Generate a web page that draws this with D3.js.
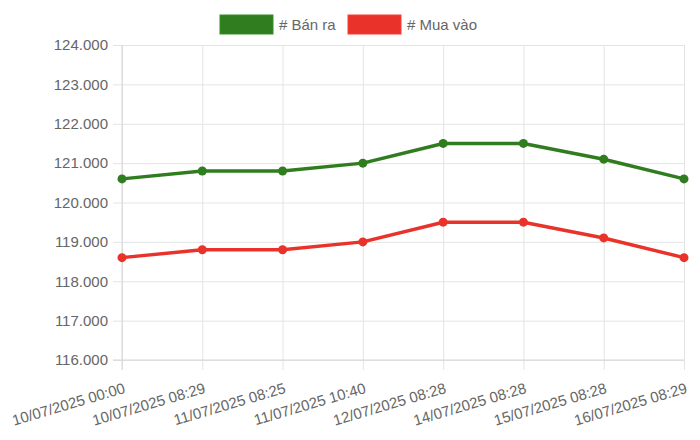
<!DOCTYPE html>
<html>
<head>
<meta charset="utf-8">
<script src="https://cdn.jsdelivr.net/npm/d3@7"></script>
<style>
  body { margin: 0; background: #fff; }
  svg { display: block; font-family: "Liberation Sans", Arial, Helvetica, sans-serif; }
</style>
</head>
<body>
<svg id="chart" width="700" height="440"></svg>
<script>
// labels on the x axis
const labels = [
  "10/07/2025 00:00", "10/07/2025 08:29", "11/07/2025 08:25", "11/07/2025 10:40",
  "12/07/2025 08:28", "14/07/2025 08:28", "15/07/2025 08:28", "16/07/2025 08:29"
];
const banRa = [120600, 120800, 120800, 121000, 121500, 121500, 121100, 120600];
const muaVao = [118600, 118800, 118800, 119000, 119500, 119500, 119100, 118600];
const yTicks = [116000, 117000, 118000, 119000, 120000, 121000, 122000, 123000, 124000];

const series = [
  { name: "# Bán ra", values: banRa, color: "#2f7d1f" },
  { name: "# Mua vào", values: muaVao, color: "#e9332a" }
];

const width = 700, height = 440;
const margin = { top: 45, right: 16, bottom: 80, left: 122 };
const svg = d3.select("#chart");

const vi = d3.formatLocale({ decimal: ",", thousands: ".", grouping: [3], currency: ["", ""] });
const fmt = vi.format(",.0f");

const x = d3.scalePoint().domain(labels).range([margin.left, width - margin.right]).padding(0);
const y = d3.scaleLinear().domain([116000, 124000]).range([height - margin.bottom, margin.top]);

const grid = "#e4e4e4";

// horizontal grid + y labels
const gy = svg.append("g")
  .attr("transform", `translate(${margin.left},0)`)
  .call(d3.axisLeft(y).tickValues(yTicks).tickFormat(fmt)
    .tickSize(-(width - margin.left - margin.right)).tickSizeOuter(0).tickPadding(14));
gy.select(".domain").remove();
gy.selectAll(".tick line").attr("stroke", grid).attr("x1", -9);
gy.selectAll(".tick text").attr("fill", "#666").attr("font-size", 15);

// vertical grid + x labels
const gx = svg.append("g")
  .attr("transform", `translate(0,${height - margin.bottom})`)
  .call(d3.axisBottom(x).tickSize(-(height - margin.top - margin.bottom)).tickSizeOuter(0));
gx.select(".domain").remove();
gx.selectAll(".tick line").attr("stroke", grid).attr("y1", 10);
gx.selectAll(".tick text")
  .attr("fill", "#666").attr("font-size", 15)
  .attr("text-anchor", "end")
  .attr("y", 0).attr("dy", "0.8em")
  .attr("transform", "translate(0,21) rotate(-16.5)");

// axis lines a touch darker
svg.append("line")
  .attr("x1", margin.left).attr("x2", margin.left)
  .attr("y1", margin.top).attr("y2", height - margin.bottom + 10)
  .attr("stroke", "#d6d6d6");
svg.append("line")
  .attr("x1", margin.left - 9).attr("x2", width - margin.right)
  .attr("y1", height - margin.bottom).attr("y2", height - margin.bottom)
  .attr("stroke", "#d6d6d6");

const line = d3.line().x((d, i) => x(labels[i])).y(d => y(d));

series.forEach(s => {
  svg.append("path")
    .datum(s.values)
    .attr("fill", "none")
    .attr("stroke", s.color)
    .attr("stroke-width", 3.5)
    .attr("stroke-linejoin", "round")
    .attr("d", line);
  svg.append("g").selectAll("circle")
    .data(s.values)
    .join("circle")
    .attr("cx", (d, i) => x(labels[i]))
    .attr("cy", d => y(d))
    .attr("r", 4.5)
    .attr("fill", s.color);
});

// legend
const legend = svg.append("g").attr("font-size", 15).attr("fill", "#666");
const legX = [220, 348];
series.forEach((s, i) => {
  const g = legend.append("g").attr("transform", `translate(${legX[i]},15)`);
  g.append("rect").attr("width", 53).attr("height", 19)
    .attr("fill", s.color).attr("stroke", d3.color(s.color).brighter(0.4)).attr("stroke-width", 1);
  g.append("text").attr("x", 59).attr("y", 15).attr("fill", "#666").text(s.name);
});
</script>
</body>
</html>
